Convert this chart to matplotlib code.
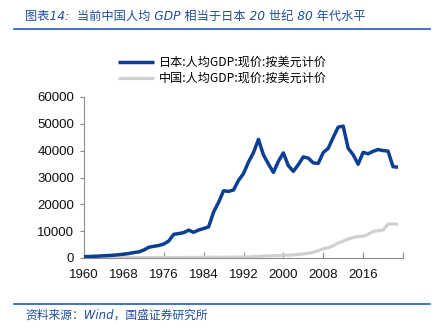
import matplotlib
matplotlib.use("Agg")
import matplotlib.pyplot as plt
from matplotlib.lines import Line2D

plt.rcParams["font.family"] = ["Noto Sans CJK SC", "DejaVu Sans"]

# ----- Data: GDP per capita, current USD -----
years = list(range(1960, 2024))
japan = [479, 563, 633, 717, 836, 919, 1058, 1228, 1450, 1669,
         2037, 2272, 2967, 3997, 4354, 4659, 5197, 6335, 8821, 9105,
         9463, 10361, 9578, 10425, 10984, 11585, 17112, 20745, 25052, 24813,
         25359, 28925, 31465, 35766, 39269, 44198, 38437, 35022, 31903, 36027,
         39169, 34406, 32289, 34808, 37688, 37218, 35434, 35275, 39339, 40855,
         44968, 48760, 49145, 40898, 38475, 34961, 39375, 38834, 39751, 40416,
         40040, 39827, 34017, 33834]
china = [90, 76, 71, 74, 85, 98, 104, 97, 91, 100,
         113, 119, 132, 157, 160, 178, 165, 185, 156, 184,
         195, 197, 203, 225, 251, 294, 282, 251, 284, 311,
         318, 333, 366, 377, 473, 610, 709, 782, 829, 873,
         959, 1053, 1149, 1289, 1509, 1753, 2099, 2694, 3468, 3832,
         4550, 5614, 6301, 7020, 7636, 8016, 8094, 8817, 9905, 10144,
         10409, 12618, 12720, 12614]
x_ticks = list(range(1960, 2017, 8))
y_ticks = list(range(0, 60001, 10000))

JP_BLUE = "#0b3f94"
CN_GREY = "#d0d0d0"
TITLE_BLUE = "#1f4e9b"
RULE_BLUE = "#1f5bb5"
AXIS_GREY = "#8c8c8c"
ITALIC_FAMILY = ["DejaVu Sans", "Noto Sans CJK SC"]

fig = plt.figure(figsize=(4.43, 3.35), dpi=100)
ax = fig.add_axes([84 / 443, 1 - 258 / 335, 319 / 443, 161 / 335])

ax.plot(years, china, color=CN_GREY, lw=2.3, solid_capstyle="butt",
        label="中国:人均GDP:现价:按美元计价", zorder=2)
ax.plot(years, japan, color=JP_BLUE, lw=2.5, solid_capstyle="butt",
        label="日本:人均GDP:现价:按美元计价", zorder=3)

ax.set_xlim(1960, 2024)
ax.set_ylim(0, 60000)
ax.set_xticks(x_ticks + [2024])
ax.set_xticklabels([str(y) for y in x_ticks] + [""])
ax.set_yticks(y_ticks)
ax.set_yticklabels([str(v) for v in y_ticks])

for s in ("top", "right"):
    ax.spines[s].set_visible(False)
for s in ("left", "bottom"):
    ax.spines[s].set_color(AXIS_GREY)
    ax.spines[s].set_linewidth(0.8)
ax.tick_params(axis="x", direction="in", length=4, color=AXIS_GREY,
               labelsize=9.5, pad=8, labelcolor="#111111")
ax.tick_params(axis="y", direction="out", length=3, color=AXIS_GREY,
               labelsize=9.5, pad=4, labelcolor="#111111")
for lab in ax.get_xticklabels() + ax.get_yticklabels():
    lab.set_fontfamily("Liberation Sans")

# legend, Japan on top
handles, labels = ax.get_legend_handles_labels()
fig.legend(handles[::-1], labels[::-1], loc="upper left",
           bbox_to_anchor=(118 / 443, 1 - 56 / 335), frameon=False,
           fontsize=8.7, handlelength=3.0, handletextpad=0.4,
           labelspacing=0.25, borderpad=0, borderaxespad=0)

# title block
fig.text(25 / 443, 1 - 16 / 335,
         "图表14:  当前中国人均 GDP 相当于日本 20 世纪 80 年代水平",
         fontsize=8.8, style="italic", family=ITALIC_FAMILY,
         color=TITLE_BLUE, va="center", ha="left")
fig.add_artist(Line2D([14 / 443, 430 / 443], [1 - 29 / 335, 1 - 29 / 335],
                      color=RULE_BLUE, lw=1.2, transform=fig.transFigure))

# footer
fig.add_artist(Line2D([14 / 443, 430 / 443], [1 - 304 / 335, 1 - 304 / 335],
                      color=RULE_BLUE, lw=1.2, transform=fig.transFigure))
fig.text(25 / 443, 1 - 315 / 335, "资料来源：Wind，国盛证券研究所",
         fontsize=8.5, style="italic", family=ITALIC_FAMILY,
         color=TITLE_BLUE, va="center", ha="left")

fig.savefig("out.png", dpi=100)
